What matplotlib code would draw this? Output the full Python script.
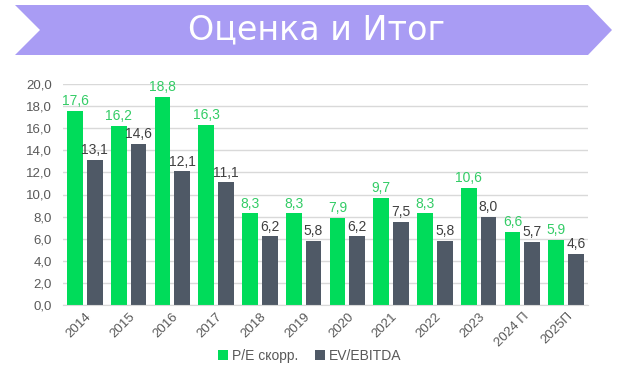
import matplotlib.pyplot as plt
import numpy as np
from matplotlib.patches import Polygon

plt.rcParams['font.family'] = ['Liberation Sans', 'DejaVu Sans']

years = ["2014", "2015", "2016", "2017", "2018", "2019", "2020",
         "2021", "2022", "2023", "2024 П", "2025П"]
pe = [17.6, 16.2, 18.8, 16.3, 8.3, 8.3, 7.9, 9.7, 8.3, 10.6, 6.6, 5.9]
ev_ebitda = [13.1, 14.6, 12.1, 11.1, 6.2, 5.8, 6.2, 7.5, 5.8, 8.0, 5.7, 4.6]

green = "#00DC5A"
dark = "#4F5966"

fig = plt.figure(figsize=(6.2, 3.74), dpi=100)

# banner with title
W, H = 620, 374
pts = [(15, 5), (588, 5), (612, 30), (588, 55), (15, 55), (40, 30)]
banner = Polygon([(x / W, 1 - y / H) for x, y in pts], closed=True,
                 transform=fig.transFigure, facecolor="#A99CF4",
                 edgecolor="none")
fig.patches.append(banner)
fig.text(316 / W, 1 - 30 / H, "Оценка и Итог", color="white",
         fontsize=24, ha="center", va="center", family="DejaVu Sans")

ax = fig.add_axes([63 / W, 1 - 305 / H, 525 / W, 221 / H])

x = np.arange(len(years))
w = 0.36
b1 = ax.bar(x - 0.225, pe, w, color=green, label="P/E скорр.")
b2 = ax.bar(x + 0.225, ev_ebitda, w, color=dark, label="EV/EBITDA")

for rect, v in zip(b1, pe):
    ax.annotate(f"{v:.1f}".replace(".", ","),
                (rect.get_x() + rect.get_width() / 2, v),
                xytext=(0, 2), textcoords="offset points",
                ha="center", va="bottom", fontsize=10, color="#33CC66")
for rect, v in zip(b2, ev_ebitda):
    ax.annotate(f"{v:.1f}".replace(".", ","),
                (rect.get_x() + rect.get_width() / 2, v),
                xytext=(0, 2), textcoords="offset points",
                ha="center", va="bottom", fontsize=10, color="#404040")

ax.set_xlim(-0.5, len(years) - 0.5)
ax.set_ylim(0, 20)
ax.set_yticks(np.arange(0, 21, 2))
ax.set_yticklabels([f"{t:.1f}".replace(".", ",") for t in np.arange(0, 21, 2)])
ax.set_xticks(x)
ax.set_xticklabels(years, rotation=45, ha="right", rotation_mode="anchor")
ax.tick_params(axis="both", length=0, labelsize=9.5, colors="#595959")
ax.tick_params(axis="y", pad=8)
ax.tick_params(axis="x", pad=4)
ax.grid(axis="y", color="#D9D9D9", linewidth=1)
ax.set_axisbelow(True)
for s in ["top", "right", "left"]:
    ax.spines[s].set_visible(False)
ax.spines["bottom"].set_color("#D9D9D9")

fig.legend(handles=[b1, b2], loc="center", bbox_to_anchor=(0.5, 1 - 356 / H),
           ncol=2, frameon=False, fontsize=10, handlelength=0.7,
           handleheight=0.7, handletextpad=0.3, columnspacing=1.2,
           labelcolor="#595959")

fig.savefig("out.png", dpi=100)
